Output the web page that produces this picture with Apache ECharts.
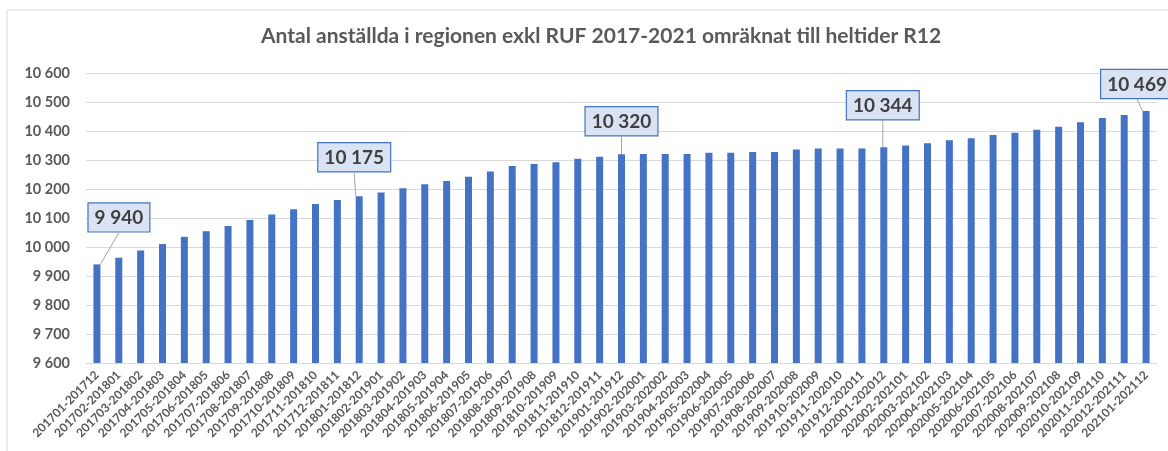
<!DOCTYPE html>
<html>
<head>
<meta charset="utf-8">
<script src="https://cdn.jsdelivr.net/npm/echarts@6/dist/echarts.min.js"></script>
<style>html,body{margin:0;padding:0;background:#fff}#c{width:1168px;height:451px}</style>
</head>
<body>
<div id="c"></div>
<script>
var titleText = 'Antal anställda i regionen exkl RUF 2017-2021 omräknat till heltider R12';
var categories = [
 '201701-201712','201702-201801','201703-201802','201704-201803','201705-201804','201706-201805',
 '201707-201806','201708-201807','201709-201808','201710-201809','201711-201810','201712-201811',
 '201801-201812','201802-201901','201803-201902','201804-201903','201805-201904','201806-201905',
 '201807-201906','201808-201907','201809-201908','201810-201909','201811-201910','201812-201911',
 '201901-201912','201902-202001','201903-202002','201904-202003','201905-202004','201906-202005',
 '201907-202006','201908-202007','201909-202008','201910-202009','201911-202010','201912-202011',
 '202001-202012','202002-202101','202003-202102','202004-202103','202005-202104','202006-202105',
 '202007-202106','202008-202107','202009-202108','202010-202109','202011-202110','202012-202111',
 '202101-202112'
];
var values = [
 9940, 9963, 9988, 10010, 10035, 10054, 10072, 10093, 10112, 10130, 10148, 10162,
 10175, 10188, 10203, 10216, 10228, 10242, 10260, 10279, 10286, 10292, 10304, 10311,
 10320, 10321, 10321, 10321, 10325, 10325, 10328, 10328, 10336, 10340, 10340, 10340,
 10344, 10350, 10358, 10368, 10375, 10386, 10394, 10404, 10415, 10430, 10445, 10455,
 10469
];
var labelledIndices = [0, 12, 24, 36, 48];
var yMin = 9600, yMax = 10600, yStep = 100;

// label offsets (style only)
var labelOffsets = {0:[22,-28], 12:[-5,-20], 24:[0,-14], 36:[-1,-23], 48:[-9,-8]};

function fmt(v){
  return String(Math.round(v)).replace(/\B(?=(\d{3})+(?!\d))/g, ' ');
}

var FONT = "Lato, 'Open Sans', sans-serif";
var data = values.map(function(v, i){
  var item = {value: v};
  if (labelledIndices.indexOf(i) >= 0) {
    item.label = {
      show: true, position: 'top', distance: 5,
      formatter: function(p){ return fmt(p.value); },
      fontFamily: FONT, fontWeight: 'bold', fontSize: 19, color: '#404040',
      backgroundColor: '#dae3f3', borderColor: '#4472c4', borderWidth: 1.2,
      padding: [5, 6, 4, 6]
    };
    item.labelLine = {show: true, lineStyle: {color: '#a6a6a6', width: 1}};
  }
  return item;
});

var chart = echarts.init(document.getElementById('c'), null, {renderer: 'canvas'});
chart.setOption({
  animation: false,
  backgroundColor: '#fff',
  title: {
    text: titleText, left: 256, top: 21,
    textStyle: {fontFamily: FONT, fontSize: 21, fontWeight: 'bold', color: '#595959'}
  },
  graphic: [{
    type: 'rect', shape: {x: 7, y: 10, width: 1200, height: 500},
    style: {fill: 'none', stroke: '#d9d9d9', lineWidth: 1}, silent: true, z: -1
  }],
  grid: {left: 86, right: 11, top: 73, bottom: 88, containLabel: false},
  xAxis: {
    type: 'category', data: categories,
    axisLine: {show: true, lineStyle: {color: '#d9d9d9'}},
    axisTick: {show: false},
    axisLabel: {
      interval: 0, rotate: 45, margin: 10,
      fontFamily: FONT, fontSize: 12, fontWeight: 'bold', color: '#595959'
    }
  },
  yAxis: {
    type: 'value', min: yMin, max: yMax, interval: yStep,
    axisLine: {show: false}, axisTick: {show: false},
    splitLine: {lineStyle: {color: '#d9d9d9', width: 1}},
    axisLabel: {
      formatter: function(v){ return fmt(v); }, margin: 16,
      fontFamily: FONT, fontSize: 14.5, fontWeight: 'bold', color: '#595959'
    }
  },
  series: [{
    type: 'bar', data: data, barWidth: 7,
    itemStyle: {color: '#4472c4'},
    labelLayout: function(p){
      var o = labelOffsets[p.dataIndex];
      return o ? {dx: o[0], dy: o[1]} : {};
    }
  }]
});
</script>
</body>
</html>
